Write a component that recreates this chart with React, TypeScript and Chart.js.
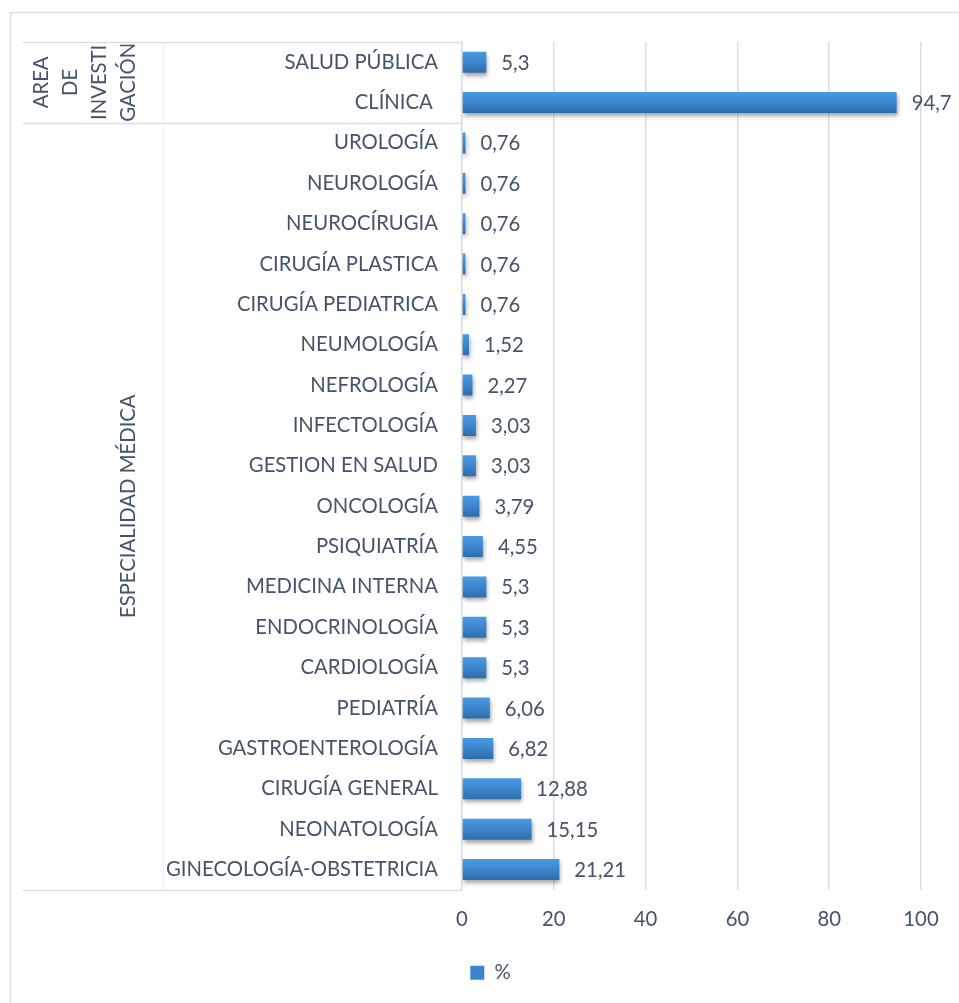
import React, { useEffect, useRef } from 'react';
import { Chart, registerables } from 'chart.js';

Chart.register(...registerables);

const categories = [
  'SALUD PÚBLICA',
  'CLÍNICA ',
  'UROLOGÍA',
  'NEUROLOGÍA',
  'NEUROCÍRUGIA',
  'CIRUGÍA PLASTICA',
  'CIRUGÍA PEDIATRICA',
  'NEUMOLOGÍA',
  'NEFROLOGÍA',
  'INFECTOLOGÍA',
  'GESTION EN SALUD',
  'ONCOLOGÍA',
  'PSIQUIATRÍA',
  'MEDICINA INTERNA',
  'ENDOCRINOLOGÍA',
  'CARDIOLOGÍA',
  'PEDIATRÍA',
  'GASTROENTEROLOGÍA',
  'CIRUGÍA GENERAL',
  'NEONATOLOGÍA',
  'GINECOLOGÍA-OBSTETRICIA',
];

const values = [
  5.3, 94.7, 0.76, 0.76, 0.76, 0.76, 0.76, 1.52, 2.27, 3.03, 3.03, 3.79, 4.55,
  5.3, 5.3, 5.3, 6.06, 6.82, 12.88, 15.15, 21.21,
];

const groupLabels = [['AREA', 'DE', 'INVESTI', 'GACIÓN'], ['ESPECIALIDAD MÉDICA']];
const groupSizes = [2, 19];

const xTickValues = [0, 20, 40, 60, 80, 100];
const seriesName = '%';

const FONT_FAMILY = 'Lato, "Liberation Sans", sans-serif';
const FONT_SIZE = 20.3;
const TEXT_COLOR = '#44546A';
const LINE_COLOR = '#D9DDE4';
const FAINT_LINE = '#EDEFF2';

const fmt = (v: number) => String(v).replace('.', ',');

const decorPlugin = {
  id: 'decor',
  afterLayout(chart: any) {
    const lg = chart.legend;
    if (lg) {
      lg.left += 30;
      lg.right += 30;
    }
  },
  beforeDraw(chart: any) {
    const ctx = chart.ctx;
    ctx.save();
    ctx.fillStyle = '#ffffff';
    ctx.fillRect(0, 0, chart.width, chart.height);
    ctx.strokeStyle = LINE_COLOR;
    ctx.lineWidth = 1.5;
    ctx.strokeRect(10.5, 12.5, chart.width + 10, chart.height + 10);
    ctx.restore();
  },
  beforeDatasetsDraw(chart: any) {
    const { ctx, chartArea } = chart;
    const y = chart.scales.y;
    const left = 23;
    const colX = 163;
    const right = chartArea.left;
    const bounds: number[] = [chartArea.top];
    let idx = 0;
    groupSizes.forEach((n) => {
      idx += n;
      if (idx >= categories.length) bounds.push(chartArea.bottom);
      else bounds.push((y.getPixelForValue(idx - 1) + y.getPixelForValue(idx)) / 2);
    });
    ctx.save();
    ctx.strokeStyle = LINE_COLOR;
    ctx.lineWidth = 1.5;
    ctx.beginPath();
    bounds.forEach((b) => {
      ctx.moveTo(left, Math.round(b) + 0.5);
      ctx.lineTo(right, Math.round(b) + 0.5);
    });
    ctx.stroke();
    ctx.strokeStyle = FAINT_LINE;
    ctx.lineWidth = 1;
    ctx.beginPath();
    ctx.moveTo(colX + 0.5, chartArea.top);
    ctx.lineTo(colX + 0.5, chartArea.bottom);
    ctx.stroke();

    ctx.fillStyle = TEXT_COLOR;
    ctx.font = `${FONT_SIZE}px ${FONT_FAMILY}`;
    ctx.textAlign = 'center';
    ctx.textBaseline = 'middle';
    groupLabels.forEach((lines, g) => {
      const cy = (bounds[g] + bounds[g + 1]) / 2;
      lines.forEach((t, i) => {
        const cx = colX - 35 - (lines.length - 1 - i) * 29;
        ctx.save();
        ctx.translate(cx, cy);
        ctx.rotate(-Math.PI / 2);
        ctx.fillText(t, 0, 0);
        ctx.restore();
      });
    });
    ctx.restore();

    ctx.save();
    ctx.shadowColor = 'rgba(0,0,0,0.35)';
    ctx.shadowBlur = 4;
    ctx.shadowOffsetX = 1;
    ctx.shadowOffsetY = 3;
  },
  afterDatasetsDraw(chart: any) {
    const ctx = chart.ctx;
    ctx.restore();
    const meta = chart.getDatasetMeta(0);
    ctx.save();
    ctx.fillStyle = TEXT_COLOR;
    ctx.font = `${FONT_SIZE}px ${FONT_FAMILY}`;
    ctx.textAlign = 'left';
    ctx.textBaseline = 'middle';
    meta.data.forEach((bar: any, i: number) => {
      ctx.fillText(fmt(values[i]), bar.x + 15, bar.y + 1);
    });
    ctx.restore();
  },
};

function barColor(context: any) {
  const chart = context.chart;
  const y = chart.scales?.y;
  if (!y || context.dataIndex === undefined) return '#3B84CF';
  const cy = y.getPixelForValue(context.dataIndex);
  const half = 11;
  const g = chart.ctx.createLinearGradient(0, cy - half, 0, cy + half);
  g.addColorStop(0, '#4A9BE3');
  g.addColorStop(0.5, '#3C86CF');
  g.addColorStop(1, '#2D6BA8');
  return g;
}

export default function App() {
  const ref = useRef<HTMLCanvasElement | null>(null);

  useEffect(() => {
    if (!ref.current) return;
    const chart = new Chart(ref.current, {
      type: 'bar',
      data: {
        labels: categories,
        datasets: [
          {
            label: seriesName,
            data: values,
            backgroundColor: barColor,
            borderWidth: 0,
            barPercentage: 0.52,
            categoryPercentage: 1,
          },
        ],
      },
      options: {
        indexAxis: 'y',
        animation: false,
        responsive: true,
        maintainAspectRatio: false,
        layout: { padding: { left: 0, right: 38, top: 42, bottom: 10 } },
        plugins: {
          tooltip: { enabled: false },
          legend: {
            display: true,
            position: 'bottom',
            labels: {
              boxWidth: 14,
              boxHeight: 14,
              padding: 10,
              color: TEXT_COLOR,
              font: { family: FONT_FAMILY, size: FONT_SIZE },
              generateLabels: () => [
                {
                  text: seriesName,
                  fillStyle: '#3B84CF',
                  strokeStyle: 'rgba(0,0,0,0)',
                  lineWidth: 0,
                  hidden: false,
                  datasetIndex: 0,
                  fontColor: TEXT_COLOR,
                } as any,
              ],
            },
          },
        },
        scales: {
          x: {
            type: 'linear',
            min: 0,
            max: 100,
            afterBuildTicks: (scale: any) => {
              scale.ticks = xTickValues.map((v) => ({ value: v }));
            },
            afterFit: (scale: any) => {
              scale.height = 63;
            },
            grid: { color: LINE_COLOR, lineWidth: 1.5, drawTicks: false },
            border: { display: false },
            ticks: {
              padding: 18,
              color: TEXT_COLOR,
              font: { family: FONT_FAMILY, size: FONT_SIZE },
            },
          },
          y: {
            type: 'category',
            afterFit: (scale: any) => {
              scale.width = 462;
            },
            grid: { display: false, drawTicks: false },
            border: { display: true, color: LINE_COLOR, width: 1.5 },
            ticks: {
              padding: 24,
              color: TEXT_COLOR,
              font: { family: FONT_FAMILY, size: FONT_SIZE },
              autoSkip: false,
            },
          },
        },
      },
      plugins: [decorPlugin],
    });
    return () => chart.destroy();
  }, []);

  return (
    <div style={{ position: 'fixed', left: 0, top: 0, width: 959, height: 1003, background: '#fff' }}>
      <canvas ref={ref} />
    </div>
  );
}
